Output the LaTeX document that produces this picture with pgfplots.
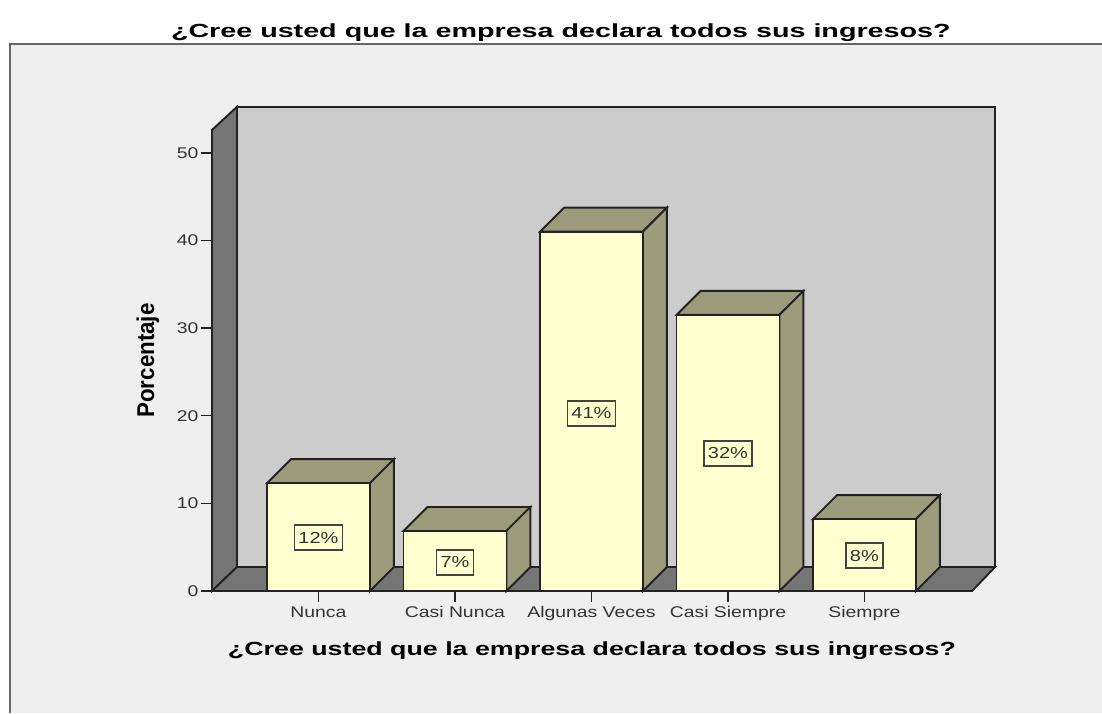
\documentclass[border=0pt]{standalone}
\usepackage{pgfplots}
\usepackage{graphicx}
\usepackage{fontspec}
\setmainfont{Liberation Sans}
\pgfplotsset{compat=1.18}
\definecolor{panel}{HTML}{EFEFEF}
\definecolor{wall}{HTML}{CCCCCC}
\definecolor{floorc}{HTML}{757575}
\definecolor{barf}{HTML}{FFFFD0}
\definecolor{bars}{HTML}{9C9C7C}
\definecolor{edge}{HTML}{222222}
\definecolor{txt}{HTML}{333333}
\newcommand\sx[1]{\scalebox{1.25}[1]{#1}}
\newcommand\bl[1]{\node[draw=edge!85,line width=1.9pt,fill=barf,inner sep=0pt,minimum height=25pt,text=txt,font=\fontsize{16}{18}\selectfont] at #1;}
\pgfplotsset{every axis title shift=0pt}
\begin{document}
\begin{tikzpicture}
\useasboundingbox[fill=white] (-212pt,-122pt) rectangle (890pt,591pt);
\fill[panel] (-202pt,-122pt) rectangle (890pt,547pt);
\draw[gray!80!black,line width=1.6pt] (-202pt,-122pt) -- (-202pt,547pt) -- (890pt,547pt);
\begin{axis}[
  at={(0pt,0pt)},anchor=south west,
  scale only axis,width=760pt,height=461pt,
  xmin=-0.78,xmax=4.788,ymin=0,ymax=52.6,
  clip=false,no markers,
  axis x line*=bottom,axis y line*=left,
  axis line style={line width=1.9pt,draw=edge,-},
  tick style={line width=1.5pt,draw=edge},
  major tick length=11pt,
  tick align=outside,
  xtick={0,1,2,3,4},
  xticklabels={\sx{Nunca},\sx{Casi Nunca},\sx{Algunas Veces},\sx{Casi Siempre},\sx{Siempre}},
  ytick={0,10,20,30,40,50},
  yticklabels={\sx{0},\sx{10},\sx{20},\sx{30},\sx{40},\sx{50}},
  tick label style={font=\fontsize{15.5}{18}\selectfont,text=txt},
  xticklabel style={yshift=-1pt},
  yticklabel style={xshift=1pt},
  xlabel={\scalebox{1.41}[1]{¿Cree usted que la empresa declara todos sus ingresos?}},
  xlabel style={font=\bfseries\fontsize{19}{22}\selectfont,text=black,yshift=-14pt},
  ylabel={\scalebox{1.24}[1.35]{Porcentaje}},
  ylabel style={font=\bfseries\fontsize{18}{22}\selectfont,text=black,yshift=11pt},
  title={\scalebox{1.51}[1]{¿Cree usted que la empresa declara todos sus ingresos?}},
  title style={font=\bfseries\fontsize{19}{22}\selectfont,text=black,at={(axis description cs:0.459,1.211)},anchor=center},
]
% walls
\addplot[fill=wall,draw=edge,line width=1.9pt] coordinates {(-0.597,2.74)(4.957,2.74)(4.957,55.25)(-0.597,55.25)} -- cycle;
\addplot[fill=floorc,draw=edge,line width=1.9pt] coordinates {(-0.78,0)(-0.597,2.74)(-0.597,55.25)(-0.78,52.6)} -- cycle;
\addplot[fill=floorc,draw=edge,line width=1.9pt] coordinates {(-0.78,0)(-0.597,2.74)(4.957,2.74)(4.788,0)} -- cycle;
% tops and sides
\addplot[fill=bars,draw=edge,line width=1.9pt] coordinates {(-0.377,12.3)(-0.201,15.04)(0.553,15.04)(0.377,12.3)} -- cycle;
\addplot[fill=bars,draw=edge,line width=1.9pt] coordinates {(0.377,0)(0.553,2.74)(0.553,15.04)(0.377,12.3)} -- cycle;
\addplot[fill=bars,draw=edge,line width=1.9pt] coordinates {(0.623,6.85)(0.799,9.59)(1.553,9.59)(1.377,6.85)} -- cycle;
\addplot[fill=bars,draw=edge,line width=1.9pt] coordinates {(1.377,0)(1.553,2.74)(1.553,9.59)(1.377,6.85)} -- cycle;
\addplot[fill=bars,draw=edge,line width=1.9pt] coordinates {(1.623,41)(1.799,43.74)(2.553,43.74)(2.377,41)} -- cycle;
\addplot[fill=bars,draw=edge,line width=1.9pt] coordinates {(2.377,0)(2.553,2.74)(2.553,43.74)(2.377,41)} -- cycle;
\addplot[fill=bars,draw=edge,line width=1.9pt] coordinates {(2.623,31.5)(2.799,34.24)(3.553,34.24)(3.377,31.5)} -- cycle;
\addplot[fill=bars,draw=edge,line width=1.9pt] coordinates {(3.377,0)(3.553,2.74)(3.553,34.24)(3.377,31.5)} -- cycle;
\addplot[fill=bars,draw=edge,line width=1.9pt] coordinates {(3.623,8.2)(3.799,10.94)(4.553,10.94)(4.377,8.2)} -- cycle;
\addplot[fill=bars,draw=edge,line width=1.9pt] coordinates {(4.377,0)(4.553,2.74)(4.553,10.94)(4.377,8.2)} -- cycle;
% fronts
\addplot[ybar,bar width=103pt,fill=barf,draw=edge,line width=1.9pt] coordinates {(0,12.3)(1,6.85)(2,41)(3,31.5)(4,8.2)};
\bl{(axis cs:0,6.1) [minimum width=48pt] {\sx{12\%}}}
\bl{(axis cs:1,3.3) [minimum width=37pt] {\sx{7\%}}}
\bl{(axis cs:2,20.3) [minimum width=48pt] {\sx{41\%}}}
\bl{(axis cs:3,15.7) [minimum width=48pt] {\sx{32\%}}}
\bl{(axis cs:4,4.0) [minimum width=37pt] {\sx{8\%}}}
\end{axis}
\end{tikzpicture}
\end{document}
